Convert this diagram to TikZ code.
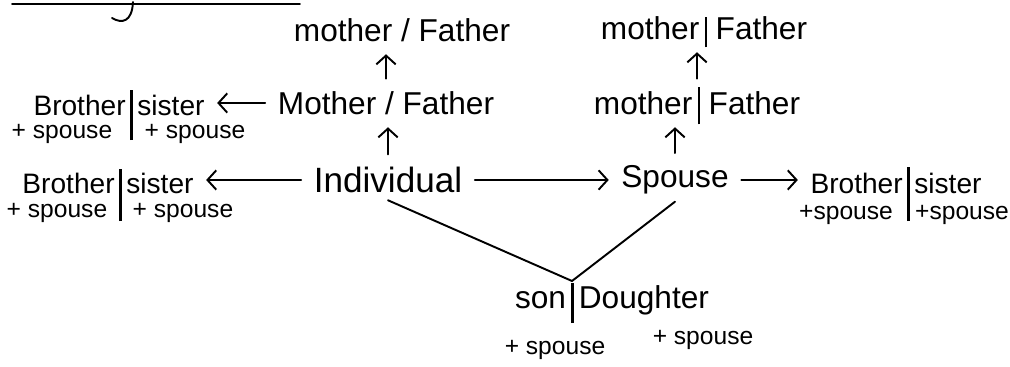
\documentclass[tikz,border=0pt]{standalone}
\usepackage{fontspec}
\setmainfont{Liberation Sans}
\usetikzlibrary{arrows.meta,positioning,calc}
\newcommand{\sepbar}[2]{\smash{\rule[-#1]{1.3pt}{#2}}}

\begin{document}
\begin{tikzpicture}[x=0.02cm, y=-0.02cm,
  word/.style={inner sep=4pt, font=\fontsize{18}{20}\selectfont},
  sib/.style={inner sep=4pt, font=\fontsize{16}{18}\selectfont},
  note/.style={inner sep=2pt, font=\fontsize{14}{16}\selectfont},
  arr/.style={-{Straight Barb[length=5pt,width=11pt]}, line width=1.1pt, line cap=round, shorten <=3pt, shorten >=3pt},
  link/.style={line width=1.1pt, line cap=round}
]
  \useasboundingbox (0,0) rectangle (1010,367);

  % heading, cut off at the top
  \draw[link] (12,4) -- (300,4);
  \draw[link] (133,2) .. controls (132,22) and (122,24) .. (112,18);

  % individual and own parents
  \node[word] (gpL) at (402,30) {mother / Father};
  \node[word] (parL) at (386,103) {Mother / Father};
  \node[word, font=\fontsize{20}{22}\selectfont] (indiv) at (388,180) {Individual};

  % spouse and in-laws
  \node[word] (spouse) at (675,180) {Spouse};
  \node[word] (parR) at (697,103) {mother\,\sepbar{0.2cm}{0.74cm}\ Father};
  \node[word] (gpR) at (704,28) {mother\,\sepbar{0.16cm}{0.6cm}\ Father};

  % siblings
  \node[sib] (sibL1) at (119,105) {Brother\,\sepbar{0.5cm}{1cm}\,sister};
  \node[note] (spL1a) at (62,134) {+ spouse};
  \node[note] (spL1b) at (195,134) {+ spouse};
  \node[sib] (sibL2) at (108,183) {Brother\,\sepbar{0.56cm}{1.04cm}\,sister};
  \node[note] (spL2a) at (57,213) {+ spouse};
  \node[note] (spL2b) at (183,213) {+ spouse};
  \node[sib] (sibR) at (896,183) {Brother\,\sepbar{0.56cm}{1.08cm}\,sister};
  \node[note] (spRa) at (846,215) {+spouse};
  \node[note] (spRb) at (962,215) {+spouse};

  % children
  \node[word] (child) at (612,300) {son\,\sepbar{0.3cm}{0.8cm}\,Doughter};
  \node[note] (spCa) at (555,350) {+ spouse};
  \node[note] (spCb) at (703,340) {+ spouse};
  \coordinate (kid) at (572,281);

  \draw[arr] (parL) -- (parL |- gpL.south);
  \draw[arr] (indiv) -- (indiv |- parL.south);
  \draw[arr] (spouse) -- (spouse |- parR.south);
  \draw[arr] (parR) -- (parR |- gpR.south);
  \draw[arr] (indiv) -- (spouse);
  \draw[arr] (parL) -- (parL -| sibL1.east);
  \draw[arr] (indiv) -- (indiv -| sibL2.east);
  \draw[arr] (spouse) -- (spouse -| sibR.west);
  \draw[link] (indiv.south) -- (kid);
  \draw[link] (spouse.south) -- (kid);
\end{tikzpicture}
\end{document}
